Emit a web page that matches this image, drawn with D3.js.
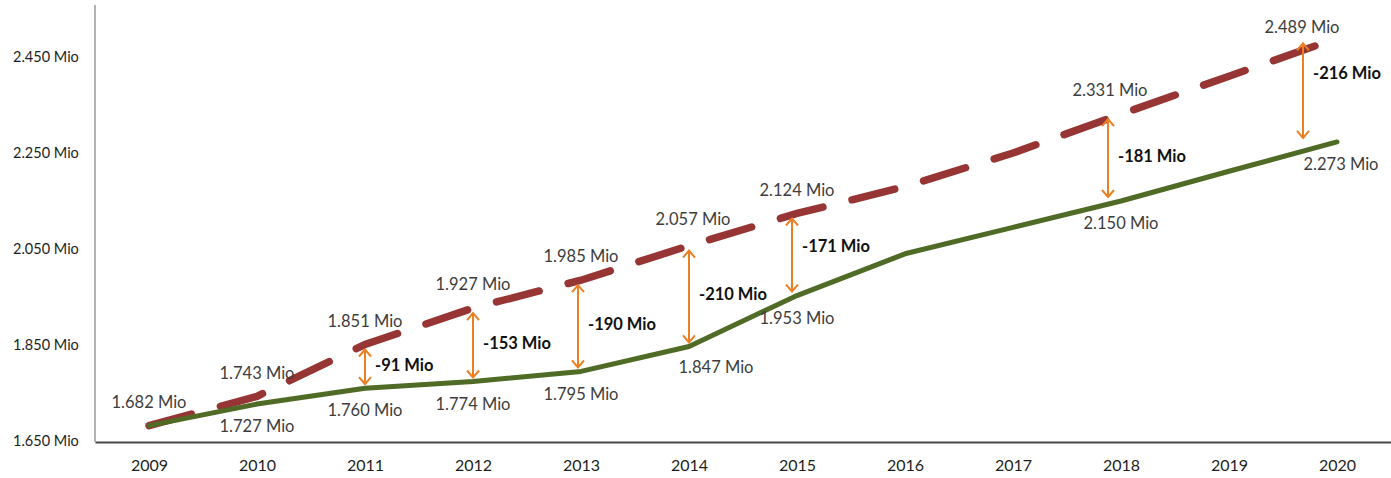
<!DOCTYPE html>
<html>
<head>
<meta charset="utf-8">
<script src="https://cdn.jsdelivr.net/npm/d3@7"></script>
<style>
  html, body { margin: 0; padding: 0; background: #fff; }
  svg { display: block; font-family: Lato, "Open Sans", sans-serif; }
</style>
</head>
<body>
<div id="chart"></div>
<script>
// values in thousands
const years = [2009, 2010, 2011, 2012, 2013, 2014, 2015, 2016, 2017, 2018, 2019, 2020];
const forecast = [1682, 1743, 1851, 1927, 1985, 2057, 2124, 2180, 2250, 2331, 2410, 2489];
const actual = [1682, 1727, 1760, 1774, 1795, 1847, 1953, 2040, 2095, 2150, 2212, 2273];
const yTicks = [1650, 1850, 2050, 2250, 2450];
const forecastLabelYears = [2009, 2010, 2011, 2012, 2013, 2014, 2015, 2018, 2020];
const actualLabelYears = [2010, 2011, 2012, 2013, 2014, 2015, 2018, 2020];
const gapYears = [2011, 2012, 2013, 2014, 2015, 2018, 2020];

const width = 1391, height = 478;
const fmtMio = v => (v / 1000).toFixed(3) + ' Mio';

const svg = d3.select('#chart')
    .append('svg')
    .attr('width', width)
    .attr('height', height);

const x = d3.scalePoint()
    .domain(years)
    .range([95, 1391])
    .padding(0.5);

const y = d3.scaleLinear()
    .domain([1650, 2550])
    .range([441, 9]);

// Axes
const xAxis = svg.append('g')
    .attr('transform', 'translate(0,442)')
    .call(d3.axisBottom(x).tickSize(0).tickSizeOuter(0).tickPadding(18));
xAxis.select('.domain').attr('stroke', '#4a4a4a').attr('stroke-width', 2);
xAxis.selectAll('text')
    .attr('font-size', 16)
    .attr('fill', '#1e1e1e')
    .attr('font-family', 'Lato, sans-serif');

const yAxis = svg.append('g')
    .attr('transform', 'translate(95,0)')
    .call(d3.axisLeft(y).tickValues(yTicks).tickSize(0).tickSizeOuter(0)
        .tickFormat(fmtMio));
yAxis.select('.domain').attr('d', 'M0,442V5').attr('stroke', '#9a9a9a').attr('stroke-width', 1.5);
yAxis.selectAll('text')
    .attr('text-anchor', 'start')
    .attr('x', 13 - 95)
    .attr('font-size', 14.5)
    .attr('fill', '#1e1e1e')
    .attr('font-family', 'Lato, sans-serif');

// Lines
const line = d3.line()
    .x(d => x(d.year))
    .y(d => y(d.value));

const toPoints = arr => years.map((year, i) => ({ year, value: arr[i] }));

svg.append('path')
    .datum(toPoints(forecast))
    .attr('d', line)
    .attr('fill', 'none')
    .attr('stroke', '#973534')
    .attr('stroke-width', 7.5)
    .attr('stroke-linecap', 'round')
    .attr('stroke-dasharray', '44,30');

svg.append('path')
    .datum(toPoints(actual))
    .attr('d', line)
    .attr('fill', 'none')
    .attr('stroke', '#4f6b26')
    .attr('stroke-width', 5)
    .attr('stroke-linecap', 'round')
    .attr('stroke-linejoin', 'round');

// Gap arrows
const orange = '#ec7f22';
svg.append('defs').append('marker')
    .attr('id', 'head')
    .attr('viewBox', '0 0 10 14')
    .attr('refX', 8)
    .attr('refY', 7)
    .attr('markerWidth', 10)
    .attr('markerHeight', 14)
    .attr('markerUnits', 'userSpaceOnUse')
    .attr('orient', 'auto-start-reverse')
    .append('path')
    .attr('d', 'M1,1 L8,7 L1,13')
    .attr('fill', 'none')
    .attr('stroke', orange)
    .attr('stroke-width', 2);

const arrowShift = { 2013: -3, 2015: -5, 2018: -13, 2020: -34 };
const gapLabelDy = { 2015: -7, 2020: -15 };
const idx = year => years.indexOf(year);
const ax = d => x(d) + (arrowShift[d] || 0);

const gaps = svg.append('g').selectAll('g')
    .data(gapYears)
    .join('g');

gaps.append('line')
    .attr('x1', ax)
    .attr('x2', ax)
    .attr('y1', d => y(forecast[idx(d)]) + 5)
    .attr('y2', d => y(actual[idx(d)]) - 4)
    .attr('stroke', orange)
    .attr('stroke-width', 2)
    .attr('marker-start', 'url(#head)')
    .attr('marker-end', 'url(#head)');

gaps.append('text')
    .attr('x', d => ax(d) + 10)
    .attr('y', d => (y(forecast[idx(d)]) + y(actual[idx(d)])) / 2 + (gapLabelDy[d] || 0))
    .attr('dominant-baseline', 'middle')
    .attr('font-size', 16.5)
    .attr('font-weight', 'bold')
    .attr('fill', '#111')
    .text(d => `-${forecast[idx(d)] - actual[idx(d)]} Mio`);

// Data labels
const nudge = {
    'f2014': [4, -3],
    'f2018': [-11, 0],
    'f2020': [-35, 13],
    'a2014': [27, -2],
    'a2020': [4, 0]
};

const labels = svg.append('g')
    .attr('font-size', 16.5)
    .attr('fill', '#3d3d3d')
    .attr('text-anchor', 'middle')
    .attr('dominant-baseline', 'middle');

labels.selectAll('.f')
    .data(forecastLabelYears)
    .join('text')
    .attr('class', 'f')
    .attr('x', d => x(d) + (nudge['f' + d] || [0, 0])[0])
    .attr('y', d => y(forecast[idx(d)]) - 22 + (nudge['f' + d] || [0, 0])[1])
    .text(d => fmtMio(forecast[idx(d)]));

labels.selectAll('.a')
    .data(actualLabelYears)
    .join('text')
    .attr('class', 'a')
    .attr('x', d => x(d) + (nudge['a' + d] || [0, 0])[0])
    .attr('y', d => y(actual[idx(d)]) + 24 + (nudge['a' + d] || [0, 0])[1])
    .text(d => fmtMio(actual[idx(d)]));
</script>
</body>
</html>
